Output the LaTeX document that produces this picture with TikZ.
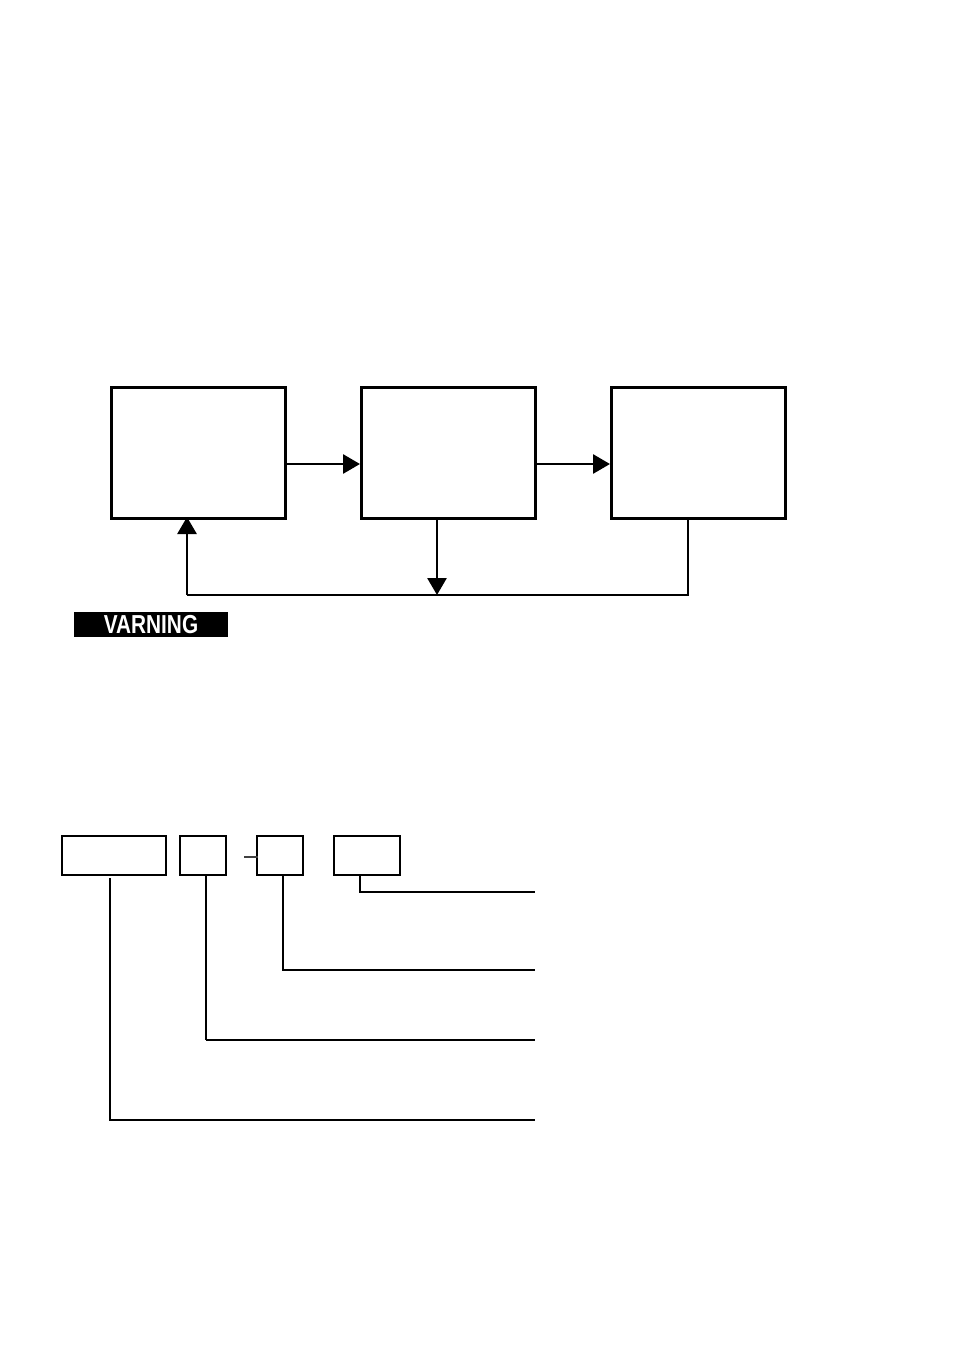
\documentclass[tikz,border=0pt]{standalone}
\usepackage{fontspec}
\setmainfont{Liberation Sans}
\usetikzlibrary{arrows.meta}
\begin{document}
\begin{tikzpicture}[x=1pt,y=-1pt,
  bigbox/.style={draw,line width=2.8pt,minimum width=174pt,minimum height=131pt,inner sep=0pt,anchor=north west},
  smallbox/.style={draw,line width=1.8pt,minimum height=39pt,inner sep=0pt,anchor=north west},
  flow/.style={line width=2.8pt,-{Triangle[length=17pt,width=19pt]}},
  plain/.style={line width=2.8pt},
  lead/.style={line width=1.8pt},
  leadthick/.style={line width=2.8pt}]
\useasboundingbox (0,0) rectangle (954,1347);
% top flow
\node[bigbox] (a) at (110,386) {};
\node[bigbox] (b) at (360,386) {};
\node[bigbox] (c) at (610,386) {};
\coordinate (ab1) at (284,464);
\coordinate (ab2) at (360,464);
\coordinate (bc1) at (533,464);
\coordinate (bc2) at (610,464);
\draw[flow] (a.east |- ab1) -- (b.west |- ab2);
\draw[flow] (b.east |- bc1) -- (c.west |- bc2);
\coordinate (cb) at (688,517);
\coordinate (cr) at (688,595);
\coordinate (bm) at (437,595);
\coordinate (al) at (187,595);
\coordinate (ab) at (187,517);
\draw[flow] (b.south -| bm) -- (bm);
\draw[plain,line join=miter] (cb) -- (cr) -- (al);
\draw[flow] (al) -- (ab);
% warning label
\node[fill=black,minimum width=154pt,minimum height=25pt,inner sep=0pt,anchor=north west] (warn) at (74,612) {};
\node[text=white,font=\bfseries\fontsize{26}{26}\selectfont,xscale=0.8] (wtxt) at (151,625) {VARNING};
% bottom code boxes
\node[smallbox,minimum width=104pt] (s1) at (61,835) {};
\node[smallbox,minimum width=46pt] (s2) at (179,835) {};
\node[smallbox,minimum width=46pt] (s3) at (256,835) {};
\node[smallbox,minimum width=66pt] (s4) at (333,835) {};
\coordinate (d1) at (244,857);
\coordinate (d2) at (258,857);
\draw[line width=2pt,black!75] (d1) -- (d2);
\coordinate (e4) at (535,892);
\coordinate (e3) at (535,970);
\coordinate (e2) at (535,1040);
\coordinate (e1) at (535,1120);
\coordinate (s1t) at (110,878);
\draw[lead] (s4.south -| 360,0) |- (e4);
\draw[lead] (s3.south -| 283,0) |- (e3);
\draw[lead] (s2.south -| 206,0) -- (206,1040);
\draw[leadthick] (205.5,1040) -- (e2);
\draw[leadthick] (s1t) -- (110,1120);
\draw[lead] (109,1120) -- (e1);
\end{tikzpicture}
\end{document}
